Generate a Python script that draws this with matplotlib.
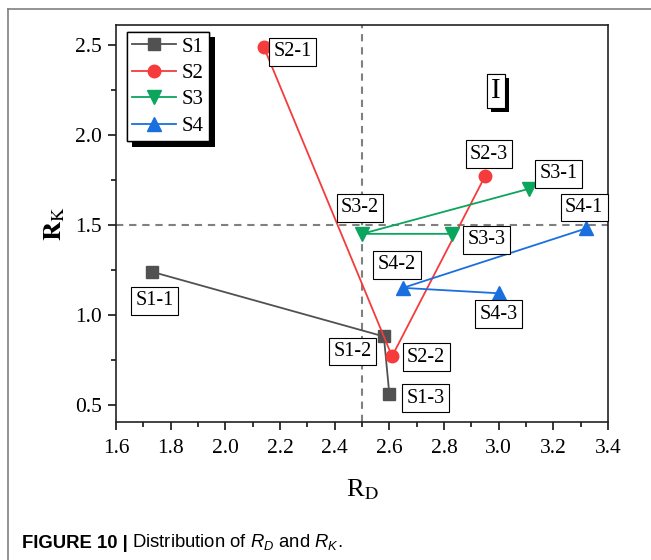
import matplotlib
matplotlib.use("Agg")
import matplotlib.pyplot as plt
from matplotlib.lines import Line2D
import matplotlib.patheffects as pe

plt.rcParams['font.family'] = ['Liberation Serif', 'DejaVu Serif']
plt.rcParams['mathtext.fontset'] = 'custom'
plt.rcParams['mathtext.rm'] = 'Liberation Sans'
plt.rcParams['mathtext.it'] = 'Liberation Sans:italic'
plt.rcParams['mathtext.bf'] = 'Liberation Sans:bold'

# ---- data ----
series = ['S1', 'S2', 'S3', 'S4']
s1_rd = [1.73, 2.58, 2.60]
s1_rk = [1.24, 0.88, 0.56]
s2_rd = [2.14, 2.61, 2.95]
s2_rk = [2.49, 0.77, 1.77]
s3_rd = [3.11, 2.50, 2.83]
s3_rk = [1.70, 1.45, 1.45]
s4_rd = [3.32, 2.65, 3.00]
s4_rk = [1.48, 1.15, 1.12]
point_labels = [['S1-1', 'S1-2', 'S1-3'],
                ['S2-1', 'S2-2', 'S2-3'],
                ['S3-1', 'S3-2', 'S3-3'],
                ['S4-1', 'S4-2', 'S4-3']]
x_ticks = [1.6, 1.8, 2.0, 2.2, 2.4, 2.6, 2.8, 3.0, 3.2, 3.4]
y_ticks = [0.5, 1.0, 1.5, 2.0, 2.5]
rd_threshold = 2.5
rk_threshold = 1.5

# ---- styles ----
colors = ['#515151', '#F53B3B', '#0BA55E', '#1A6FDF']
markers = ['s', 'o', 'v', '^']
msizes = [8, 9, 9.5, 9.5]
# label offsets in pixels (dx, dy)
offsets = [[(3, -29), (-31, -15), (36, -4)],
           [(29, -5), (34, -1), (4, 22)],
           [(30, 15), (-2, 26), (34, -6)],
           [(-2, 21), (-6, 23), (0, -21)]]

fig = plt.figure(figsize=(6.51, 5.6), dpi=100)
ax = fig.add_axes([116/651, 1-422/560, (608-116)/651, (422-25)/560])

ax.axvline(rd_threshold, color='#808080', lw=1.5, ls=(0, (3.5, 2.8)), zorder=1)
ax.axhline(rk_threshold, color='#808080', lw=1.5, ls=(0, (3.5, 2.8)), zorder=1)

all_x = [s1_rd, s2_rd, s3_rd, s4_rd]
all_y = [s1_rk, s2_rk, s3_rk, s4_rk]
for i in range(4):
    ax.plot(all_x[i], all_y[i], color=colors[i], marker=markers[i], ms=msizes[i],
            lw=1.3, label=series[i], zorder=3)
    for j in range(3):
        ax.annotate(point_labels[i][j], xy=(all_x[i][j], all_y[i][j]),
                    xytext=offsets[i][j], textcoords='offset pixels',
                    ha='center', va='center', fontsize=14.5, zorder=4,
                    bbox=dict(boxstyle='square,pad=0.22', fc='white', ec='black', lw=0.8))

ax.set_xlim(1.6, 3.4)
ax.set_ylim(0.405, 2.61)
ax.set_xticks(x_ticks)
ax.set_yticks(y_ticks)
ax.set_xticklabels([f'{v:.1f}' for v in x_ticks])
ax.set_yticklabels([f'{v:.1f}' for v in y_ticks])
ax.xaxis.set_minor_locator(matplotlib.ticker.AutoMinorLocator(2))
ax.yaxis.set_minor_locator(matplotlib.ticker.AutoMinorLocator(2))
ax.tick_params(which='major', direction='out', length=6, width=1.1, labelsize=15.5, pad=4)
ax.tick_params(axis='x', which='major', pad=6)
ax.tick_params(which='minor', direction='out', length=3.5, width=1.1)
for s in ax.spines.values():
    s.set_linewidth(1.2)
    s.set_color('#222222')

ax.set_xlabel(r'R$_{\mathrm{D}}$', fontsize=19, labelpad=14)
ax.set_ylabel(r'$\mathbf{R}_{\mathrm{K}}$', fontsize=19, labelpad=6, math_fontfamily='stix')
ax.xaxis.label.set_math_fontfamily('stix')

leg = ax.legend(loc='upper left', bbox_to_anchor=(0.022, 0.983), fontsize=15,
                frameon=True, fancybox=False, edgecolor='black', framealpha=1,
                handlelength=2.1, handletextpad=0.3, labelspacing=0.33,
                borderpad=0.25, borderaxespad=0.0)
leg.get_frame().set_linewidth(1.0)
leg.get_frame().set_path_effects([pe.withSimplePatchShadow(offset=(4, -4), shadow_rgbFace='black', alpha=1.0), pe.Normal()])

t = ax.text(2.99, 2.245, 'I', fontsize=21, ha='center', va='center',
            bbox=dict(boxstyle='square,pad=0.13', fc='white', ec='black', lw=0.8))
t.get_bbox_patch().set_path_effects([pe.withSimplePatchShadow(offset=(3, -3), shadow_rgbFace='black', alpha=1.0), pe.Normal()])

# page frame lines
fig.add_artist(Line2D([8/651, 1], [1-9/560, 1-9/560], color='#808080', lw=1.2, transform=fig.transFigure))
fig.add_artist(Line2D([8/651, 8/651], [0, 1-9/560], color='#808080', lw=1.2, transform=fig.transFigure))

cap1 = fig.text(22/651, 1-548/560, 'FIGURE 10 |', fontsize=13.3, fontweight='bold',
                family='Liberation Sans', va='baseline', ha='left')
ax.annotate(r'Distribution of $R_D$ and $R_K$.', xy=(1, 0), xycoords=cap1,
            xytext=(3, 0), textcoords='offset points', va='bottom', ha='left',
            fontsize=13.3, family='Liberation Sans', math_fontfamily='custom',
            annotation_clip=False)

fig.savefig('out.png', dpi=100)
